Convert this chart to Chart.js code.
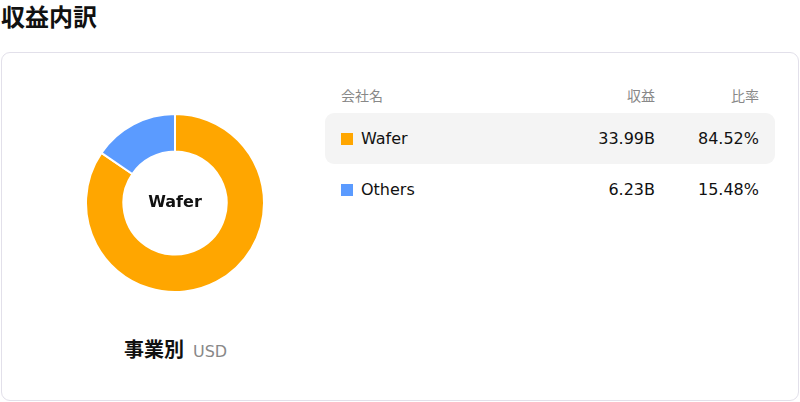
<!DOCTYPE html>
<html>
<head>
<meta charset="utf-8">
<script src="https://cdn.jsdelivr.net/npm/chart.js@4.4.0/dist/chart.umd.min.js"></script>
<style>
    body { margin: 0; width: 800px; height: 402px; overflow: hidden; background: #fff;
        font-family: "DejaVu Sans", "Noto Sans CJK JP", sans-serif; position: relative; }
    #title { position: absolute; left: 1px; top: 0px; font-size: 24px; font-weight: bold; color: #111;
        font-family: "Noto Sans CJK JP", sans-serif; line-height: 32px; }
    #card { position: absolute; left: 1px; top: 52px; width: 796px; height: 347px;
        border: 1px solid #e2e0ea; border-radius: 9px; }
    #pie { position: absolute; left: 85px; top: 113px; width: 180px; height: 180px; }
    #caption { position: absolute; left: 124px; top: 335px; font-size: 20px; font-weight: bold; color: #111;
        font-family: "Noto Sans CJK JP", sans-serif; line-height: 28px; }
    #caption span { font-family: "DejaVu Sans", sans-serif; font-weight: normal; font-size: 16px; color: #888; margin-left: 9px; }
    table { position: absolute; left: 325px; top: 77px; width: 450px; border-collapse: collapse; }
    th { font-family: "Noto Sans CJK JP", sans-serif; font-weight: normal; font-size: 14px; color: #888;
        height: 36px; text-align: right; padding: 0 16px 0 0; }
    th:first-child { text-align: left; padding: 0 0 0 16px; }
    td { height: 51px; font-size: 16px; color: #111; text-align: right; padding: 0 16px 0 0; }
    td:first-child { text-align: left; padding: 0 0 0 16px; }
    tr.hl td { background: #f4f4f4; }
    tr.hl td:first-child { border-radius: 9px 0 0 9px; }
    tr.hl td:last-child { border-radius: 0 9px 9px 0; }
    .sw { display: inline-block; width: 12px; height: 12px; margin-right: 8px; vertical-align: -1px; }
</style>
</head>
<body>
<div id="title">収益内訳</div>
<div id="card"></div>
<div id="pie"><canvas id="Revenue"></canvas></div>
<div id="caption">事業別<span>USD</span></div>
<table id="Breakdown">
    <tr><th style="width:250px">会社名</th><th>収益</th><th style="width:88px">比率</th></tr>
</table>
<script>
var Segments = ['Wafer', 'Others']
var Revenue = [33.99, 6.23]
var Share = [84.52, 15.48]
var Colors = ['rgb(255, 166, 0)', 'rgb(91, 155, 255)']

window.onload = () => {
    var table = document.getElementById('Breakdown')
    for (var i = 0; i < Segments.length; i++) {
        var row = document.createElement('tr')
        if (i == 0) row.className = 'hl'
        row.innerHTML = '<td><span class="sw" style="background:' + Colors[i] + '"></span>' + Segments[i] + '</td>' +
            '<td>' + Revenue[i].toFixed(2) + 'B</td>' +
            '<td>' + Share[i].toFixed(2) + '%</td>'
        table.append(row)
    }

    // draws the biggest segment's name in the hole
    var centerText = {
        id: 'centerText',
        afterDraw(chart) {
            var ctx = chart.ctx
            var meta = chart.getDatasetMeta(0).data[0]
            ctx.save()
            ctx.font = 'bold 16px "DejaVu Sans"'
            ctx.fillStyle = '#111'
            ctx.textAlign = 'center'
            ctx.textBaseline = 'middle'
            ctx.fillText(Segments[0], meta.x, meta.y)
            ctx.restore()
        }
    }

    var ctx = document.getElementById('Revenue').getContext('2d');
    var myChart = new Chart(ctx, {
        type: 'doughnut',
        data: {
            labels: Segments,
            datasets: [{
                data: Revenue,
                backgroundColor: Colors,
                borderColor: '#fff',
                borderWidth: 2
            }]
        },
        options: {
            responsive: true,
            maintainAspectRatio: false,
            animation: false,
            cutout: '58%',
            plugins: { legend: { display: false }, tooltip: { enabled: false } }
        },
        plugins: [centerText]
    });
}
</script>
</body>
</html>
